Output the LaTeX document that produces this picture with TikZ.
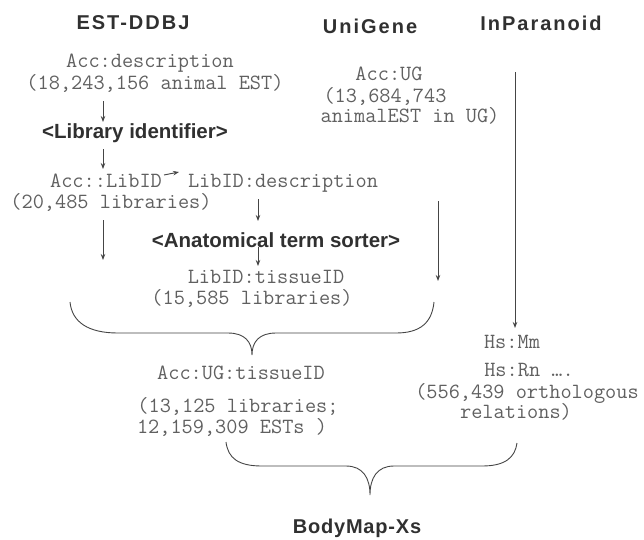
\documentclass[tikz,border=0pt]{standalone}
\usepackage{fontspec}
\setmainfont{Liberation Sans}
\newfontfamily\hdrf{Liberation Sans}[LetterSpace=10]
\newfontfamily\bmf{Liberation Sans}[LetterSpace=4]
\usetikzlibrary{arrows.meta}
\definecolor{txtgrey}{HTML}{606060}
\definecolor{darktxt}{HTML}{303030}
\definecolor{linec}{HTML}{454545}
\begin{document}
\begin{tikzpicture}[x=1pt,y=-1pt,
  mono/.style={inner sep=0pt,text height=12pt,text depth=3pt,text=txtgrey,font=\ttfamily\fontsize{21.7}{23}\selectfont},
  hdr/.style={inner sep=0pt,text=darktxt,font=\hdrf\bfseries\fontsize{20}{24}\selectfont},
  proc/.style={inner sep=0pt,text=darktxt,font=\bfseries\fontsize{20.5}{24}\selectfont},
  arr/.style={draw=linec,line width=0.9pt,-{Stealth[length=6pt,width=4.5pt]}},
  brace/.style={draw=linec,line width=0.9pt}]
\useasboundingbox (0,0) rectangle (644,539);
% headers
\node[hdr] (hest) at (133,23) {EST-DDBJ};
\node[hdr] (hug) at (370,26) {UniGene};
\node[hdr] (hip) at (541,23) {InParanoid};
% EST column
\node[mono] (accdesc) at (150,63) {Acc:description};
\node[mono] (accdesc2) at (155,85) {(18,243,156 animal EST)};
\node[proc] (libident) at (135,133) {<Library identifier>};
\node[mono] (acclib) at (106,183) {Acc::LibID};
\node[mono] (acclib2) at (111,204) {(20,485 libraries)};
\node[mono] (libdesc) at (283,183) {LibID:description};
\node[proc] (anat) at (276,240) {<Anatomical term sorter>};
\node[mono] (libtis) at (266,279) {LibID:tissueID};
\node[mono] (libtis2) at (252,300) {(15,585 libraries)};
% UniGene column
\node[mono] (accug) at (389,76) {Acc:UG};
\node[mono] (accug2) at (385,98) {(13,684,743};
\node[mono] (accug3) at (410,118) {animalEST in UG)};
% merged
\node[mono] (augt) at (241,375) {Acc:UG:tissueID};
\node[mono] (augt2) at (238,408) {(13,125 libraries;};
\node[mono] (augt3) at (232,429) {12,159,309 ESTs )};
% InParanoid
\node[mono] (hsmm) at (512,344) {Hs:Mm};
\node[mono] (hsrn) at (529,372) {Hs:Rn ….};
\node[mono] (orth) at (527,394) {(556,439 orthologous};
\node[mono] (orth2) at (516,414) {relations)};
% final
\node[inner sep=0pt,text=darktxt,font=\bmf\bfseries\fontsize{20}{24}\selectfont] (bm) at (357,528) {BodyMap-Xs};
% arrow coordinates
\coordinate (a1s) at (103,101); \coordinate (a1e) at (103,122);
\coordinate (a2s) at (103,149); \coordinate (a2e) at (103,169);
\coordinate (a3s) at (164,175); \coordinate (a3e) at (179,172);
\coordinate (a4s) at (258,199); \coordinate (a4e) at (258,221);
\coordinate (a5s) at (258,247); \coordinate (a5e) at (258,266);
\coordinate (a6s) at (103,220); \coordinate (a6e) at (103,260);
\coordinate (a7s) at (438,201); \coordinate (a7e) at (438,281);
\coordinate (a8s) at (515,72); \coordinate (a8e) at (515,328);
\draw[arr] (a1s) -- (a1e);
\draw[arr] (a2s) -- (a2e);
\draw[arr] (a3s) -- (a3e);
\draw[arr] (a4s) -- (a4e);
\draw[arr] (a5s) -- (a5e);
\draw[arr] (a6s) -- (a6e);
\draw[arr] (a7s) -- (a7e);
\draw[arr] (a8s) -- (a8e);
% braces
\coordinate (b1l) at (70,302); \coordinate (b1c) at (252,355); \coordinate (b1r) at (434,302);
\draw[brace] (b1l) .. controls (72,322) and (88,333) .. (118,333) -- (228,333)
  .. controls (245,333) and (252,342) .. (b1c)
  .. controls (252,342) and (259,333) .. (276,333) -- (396,333)
  .. controls (421,333) and (432,322) .. (b1r);
\coordinate (b2l) at (226,442); \coordinate (b2c) at (370,495); \coordinate (b2r) at (517,443);
\draw[brace] (b2l) .. controls (228,458) and (238,466) .. (262,466) -- (346,466)
  .. controls (363,466) and (370,478) .. (b2c)
  .. controls (370,478) and (377,466) .. (394,466) -- (482,466)
  .. controls (506,466) and (515,457) .. (b2r);
\end{tikzpicture}
\end{document}
